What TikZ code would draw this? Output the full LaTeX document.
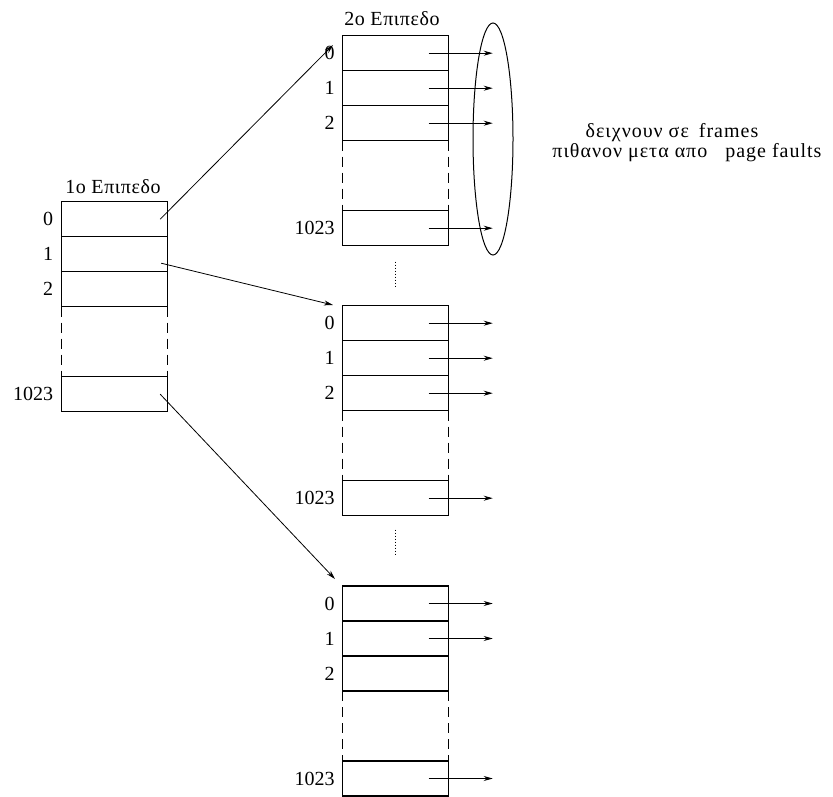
\documentclass[tikz,border=0pt]{standalone}
\usepackage{fontspec}
\setmainfont{Liberation Serif}
\usetikzlibrary{arrows.meta,shapes.geometric}

% one page table: rows 0, 1, 2, a dashed gap, and row 1023
% #1 name, #2 x of centre, #3 y of top edge
\newcommand\ptable[3]{%
  \node[cell] (#1-0) at (#2,#3+17.5) {};
  \node[cell] (#1-1) at (#2,#3+52.5) {};
  \node[cell] (#1-2) at (#2,#3+87.5) {};
  \node[cell] (#1-n) at (#2,#3+192.5) {};
  \draw[gap] (#1-2.south west) -- (#1-n.north west);
  \draw[gap] (#1-2.south east) -- (#1-n.north east);
  \node[idx] (#1-l0) at ([xshift=-8pt]#1-0.west) {0};
  \node[idx] (#1-l1) at ([xshift=-8pt]#1-1.west) {1};
  \node[idx] (#1-l2) at ([xshift=-8pt]#1-2.west) {2};
  \node[idx] (#1-ln) at ([xshift=-8pt]#1-n.west) {1023};
}

\begin{document}
\begin{tikzpicture}[x=1pt,y=-1pt,
  cell/.style={draw, line width=1.1pt, minimum width=106pt, minimum height=35pt,
    inner sep=0pt, outer sep=0pt},
  idx/.style={anchor=east, inner sep=0pt, font=\fontsize{20}{24}\selectfont},
  ttl/.style={inner sep=0pt, font=\fontsize{20}{24}\selectfont\addfontfeature{LetterSpace=3}},
  note/.style={inner sep=0pt, font=\fontsize{20}{24}\selectfont\addfontfeature{LetterSpace=5}},
  gap/.style={line width=1.1pt, dash pattern=on 10pt off 6pt},
  ptr/.style={line width=0.9pt, -{Stealth[length=9pt,width=5pt]}},
  link/.style={line width=0.8pt, -{Stealth[length=9pt,width=5pt]}},
  more/.style={line width=1pt, dash pattern=on 1.5pt off 1.5pt}]
\useasboundingbox (0,0) rectangle (833,796);

% first level
\ptable{A}{114.2}{201.7}
\node[ttl] (A-t) at (113,187) {1o Επιπεδο};

% second level tables
\ptable{B}{395.7}{35.7}
\node[ttl] (B-t) at (392,18.5) {2o Επιπεδο};
\ptable{C}{395.7}{305.7}
\ptable{D}{395.7}{586}

% entries that point to frames
\foreach \r in {B-0,B-1,B-2,B-n,C-0,C-1,C-2,C-n,D-0,D-1,D-n}
  \draw[ptr] ([xshift=33pt]\r.center) -- ([xshift=97pt]\r.center);

% frames group and its note
\node[draw, ellipse, line width=1pt, minimum width=40pt, minimum height=232pt,
  inner sep=0pt] (grp) at (493,139) {};
\node[note] (n1) at (672,133) {δειχνουν σε\hspace{0.5em}frames};
\node[note] (n2) at (687,153) {πιθανον μετα απο\hspace{0.9em}page faults};

% first level entries point to second level tables
\coordinate (B-in) at (333,45);
\coordinate (C-in) at (333,305);
\coordinate (D-in) at (335,579);
\draw[link] ([xshift=46pt]A-0.center) -- (B-in);
\draw[link] ([xshift=47pt,yshift=-9pt]A-1.center) -- (C-in);
\draw[link] ([xshift=46pt]A-n.center) -- (D-in);

% further tables not drawn
\draw[more] ([yshift=-16pt]B-n.south) -- ([yshift=-43pt]B-n.south);
\draw[more] ([yshift=-14pt]C-n.south) -- ([yshift=-41pt]C-n.south);
\end{tikzpicture}
\end{document}
